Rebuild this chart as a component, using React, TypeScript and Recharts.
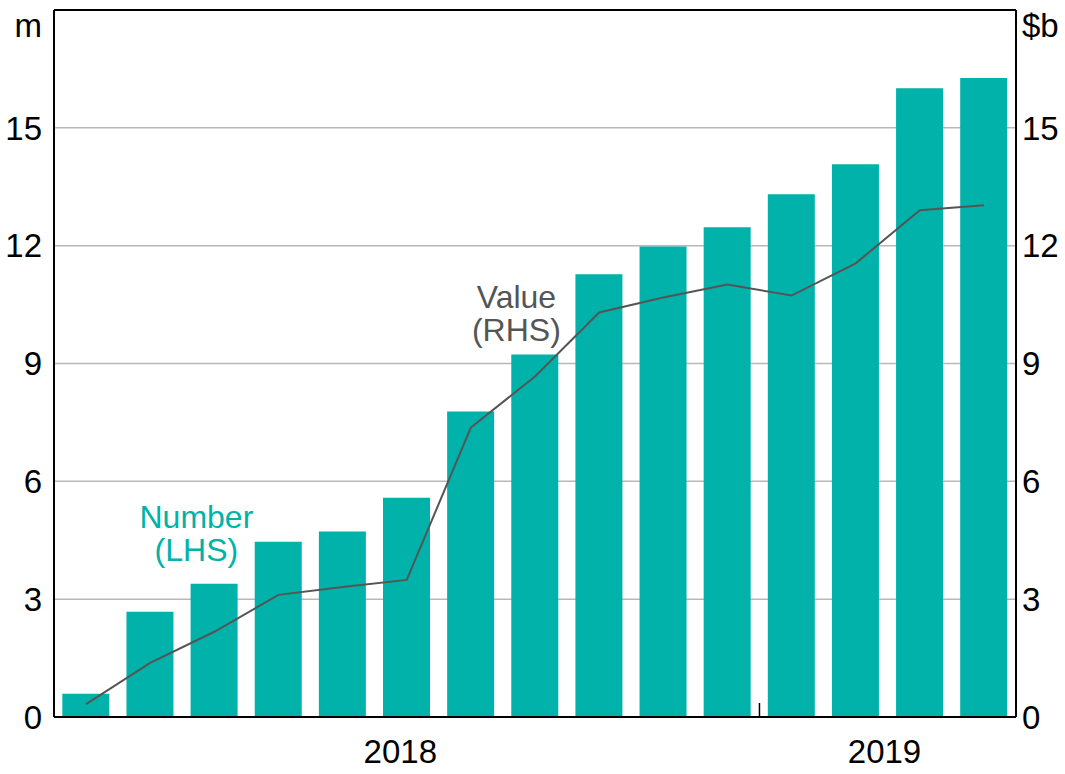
import React from "react";
import {
  ComposedChart,
  Bar,
  Line,
  XAxis,
  YAxis,
  CartesianGrid,
  ReferenceLine,
  ReferenceDot,
} from "recharts";

const months = ["Feb", "Mar", "Apr", "May", "Jun", "Jul", "Aug", "Sep", "Oct", "Nov", "Dec", "Jan", "Feb", "Mar", "Apr"];
const numberM = [0.59, 2.68, 3.39, 4.46, 4.72, 5.58, 7.78, 9.23, 11.27, 11.98, 12.47, 13.31, 14.07, 16.01, 16.27];
const valueB = [0.33, 1.38, 2.17, 3.11, 3.31, 3.49, 7.37, 8.67, 10.3, 10.68, 11.01, 10.73, 11.55, 12.9, 13.03];
const yTicks = [0, 3, 6, 9, 12, 15, 18];
const yearTicks = [5.4, 11, 12.95];
const yearLabels: Record<number, string> = { 5.4: "2018", 12.95: "2019" };

const data = months.map((m, i) => ({
  month: `${m}-${i}`,
  pos: i + 0.5,
  number: numberM[i],
  value: valueB[i],
}));

const FONT = "'Liberation Sans', Arial, sans-serif";
const TEAL = "#00B2A9";
const GREY = "#555555";

function LeftTick({ x, y, payload }: any) {
  const v = payload.value;
  return (
    <text x={x} y={v === 18 ? y + 15 : y} dy="0.355em" textAnchor="end" fontSize={33} fontFamily={FONT} fill="#000">
      {v === 18 ? "m" : v}
    </text>
  );
}

function RightTick({ x, y, payload }: any) {
  const v = payload.value;
  return (
    <text x={x} y={v === 18 ? y + 15 : y} dy="0.355em" textAnchor="start" fontSize={33} fontFamily={FONT} fill="#000">
      {v === 18 ? "$b" : v}
    </text>
  );
}

function YearTick({ x, y, payload }: any) {
  const v = payload.value;
  if (v === 11) {
    return <line x1={x} x2={x} y1={y} y2={y - 14} stroke="#000" strokeWidth={1.5} />;
  }
  return (
    <text x={x} y={y + 34} dy="0.355em" textAnchor="middle" fontSize={33} fontFamily={FONT} fill="#000">
      {yearLabels[v]}
    </text>
  );
}

export default function App() {
  return (
    <div style={{ position: "absolute", left: 0, top: 0, background: "#fff" }}>
      <ComposedChart
        width={1065}
        height={774}
        data={data}
        margin={{ top: 10, right: 0, bottom: 0, left: 0 }}
        barCategoryGap="13%"
      >
        <CartesianGrid vertical={false} stroke="#b8b8b8" strokeWidth={1.5} yAxisId="left" />
        <XAxis xAxisId="cat" dataKey="month" hide height={0} />
        <XAxis
          xAxisId="yr"
          dataKey="pos"
          type="number"
          domain={[0, 15]}
          ticks={yearTicks}
          tick={<YearTick />}
          tickLine={false}
          tickSize={0}
          tickMargin={0}
          height={57}
          axisLine={{ stroke: "#000", strokeWidth: 2 }}
          interval={0}
        />
        <YAxis
          yAxisId="left"
          domain={[0, 18]}
          ticks={yTicks}
          tick={<LeftTick />}
          tickLine={false}
          tickSize={0}
          tickMargin={12}
          width={54}
          axisLine={{ stroke: "#000", strokeWidth: 2 }}
          interval={0}
        />
        <YAxis
          yAxisId="right"
          orientation="right"
          domain={[0, 18]}
          ticks={yTicks}
          tick={<RightTick />}
          tickLine={false}
          tickSize={0}
          tickMargin={6}
          width={49}
          axisLine={{ stroke: "#000", strokeWidth: 2 }}
          interval={0}
        />
        <Bar xAxisId="cat" yAxisId="left" dataKey="number" fill={TEAL} isAnimationActive={false} />
        <Line
          xAxisId="cat"
          yAxisId="right"
          dataKey="value"
          stroke={GREY}
          strokeWidth={2}
          dot={false}
          type="linear"
          isAnimationActive={false}
        />
        <ReferenceLine xAxisId="yr" yAxisId="left" y={18} stroke="#000" strokeWidth={2} />
        <ReferenceDot
          xAxisId="yr"
          yAxisId="left"
          x={2.22}
          y={5.09}
          r={0}
          fill="none"
          stroke="none"
          label={{ value: "Number", position: "center", fill: TEAL, fontSize: 32, fontFamily: FONT }}
        />
        <ReferenceDot
          xAxisId="yr"
          yAxisId="left"
          x={2.22}
          y={4.25}
          r={0}
          fill="none"
          stroke="none"
          label={{ value: "(LHS)", position: "center", fill: TEAL, fontSize: 32, fontFamily: FONT }}
        />
        <ReferenceDot
          xAxisId="yr"
          yAxisId="left"
          x={7.21}
          y={10.69}
          r={0}
          fill="none"
          stroke="none"
          label={{ value: "Value", position: "center", fill: GREY, fontSize: 32, fontFamily: FONT }}
        />
        <ReferenceDot
          xAxisId="yr"
          yAxisId="left"
          x={7.21}
          y={9.85}
          r={0}
          fill="none"
          stroke="none"
          label={{ value: "(RHS)", position: "center", fill: GREY, fontSize: 32, fontFamily: FONT }}
        />
      </ComposedChart>
    </div>
  );
}
